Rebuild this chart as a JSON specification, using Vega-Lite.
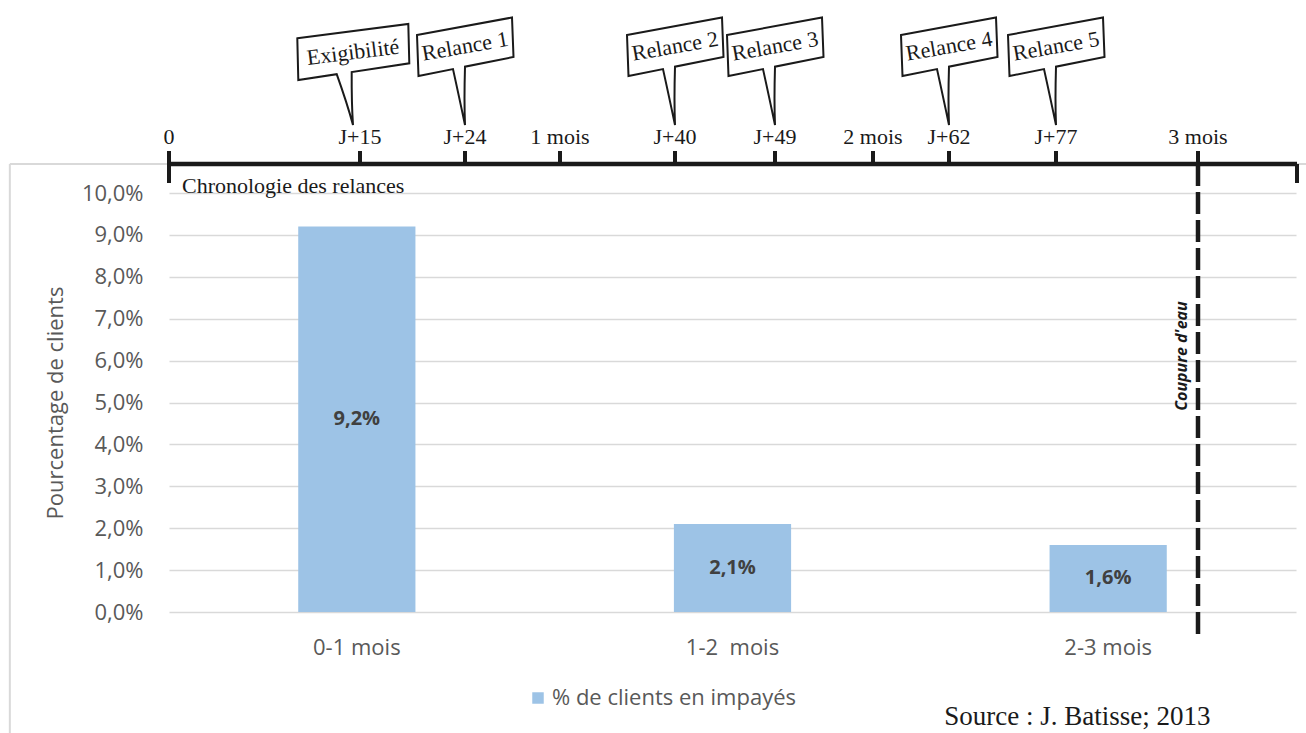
{
  "$schema": "https://vega.github.io/schema/vega-lite/v6.json",
  "width": 1127,
  "height": 419,
  "autosize": {"type": "none"},
  "padding": {"left": 169, "top": 193, "right": 10, "bottom": 121},
  "background": "white",
  "config": {
    "locale": {"number": {"decimal": ",", "thousands": " ", "grouping": [3], "currency": ["", " €"]}},
    "view": {"stroke": null},
    "font": "Open Sans",
    "legend": {
      "orient": "none",
      "legendX": 358,
      "legendY": 494,
      "padding": 0,
      "symbolType": "square",
      "symbolSize": 132,
      "symbolStrokeWidth": 0,
      "labelFont": "Open Sans",
      "labelFontSize": 22,
      "labelColor": "#595959",
      "labelOffset": 3,
      "labelLimit": 0
    }
  },
  "datasets": {
    "clients": [
      {"tranche": "0-1 mois", "pct": 0.092, "serie": "% de clients en impayés"},
      {"tranche": "1-2\u00a0 mois", "pct": 0.021, "serie": "% de clients en impayés"},
      {"tranche": "2-3 mois", "pct": 0.016, "serie": "% de clients en impayés"}
    ],
    "reperes": [
      {"jour": 0, "repere": "0", "type": "mois"},
      {"jour": 15, "repere": "J+15", "type": "relance", "evenement": "Exigibilité"},
      {"jour": 24, "repere": "J+24", "type": "relance", "evenement": "Relance 1"},
      {"jour": 30, "repere": "1 mois", "type": "mois"},
      {"jour": 40, "repere": "J+40", "type": "relance", "evenement": "Relance 2"},
      {"jour": 49, "repere": "J+49", "type": "relance", "evenement": "Relance 3"},
      {"jour": 60, "repere": "2 mois", "type": "mois"},
      {"jour": 62, "repere": "J+62", "type": "relance", "evenement": "Relance 4"},
      {"jour": 77, "repere": "J+77", "type": "relance", "evenement": "Relance 5"},
      {"jour": 90, "repere": "3 mois", "type": "mois"}
    ]
  },
  "layer": [
    {
      "data": {"name": "clients"},
      "layer": [
        {
          "mark": {"type": "bar", "color": "#9dc3e6"},
          "encoding": {
            "x": {
              "field": "tranche",
              "type": "nominal",
              "sort": null,
              "scale": {"domain": ["0-1 mois", "1-2\u00a0 mois", "2-3 mois"], "paddingInner": 0.688, "paddingOuter": 0.344},
              "axis": {
                "title": null,
                "orient": "bottom",
                "domain": false,
                "ticks": false,
                "labelAngle": 0,
                "labelPadding": 25,
                "labelFont": "Open Sans",
                "labelFontSize": 22,
                "labelColor": "#595959"
              }
            },
            "y": {
              "field": "pct",
              "type": "quantitative",
              "scale": {"domain": [0, 0.1], "nice": false, "zero": true},
              "axis": {
                "title": "Pourcentage de clients",
                "format": ".1%",
                "values": [0, 0.01, 0.02, 0.03, 0.04, 0.05, 0.06, 0.07, 0.08, 0.09, 0.1],
                "domain": false,
                "ticks": false,
                "tickSize": 0,
                "labelPadding": 26,
                "labelFont": "Open Sans",
                "labelFontSize": 22,
                "labelColor": "#595959",
                "grid": true,
                "gridColor": "#d9d9d9",
                "gridWidth": 1.5,
                "titleFont": "Open Sans",
                "titleFontSize": 22,
                "titleFontWeight": "normal",
                "titleColor": "#595959",
                "titlePadding": 14
              }
            },
            "color": {
              "field": "serie",
              "type": "nominal",
              "scale": {"range": ["#9dc3e6"]},
              "legend": {"title": null}
            }
          }
        },
        {
          "mark": {"type": "text", "font": "Open Sans", "fontSize": 20, "fontWeight": "bold", "color": "#404040", "baseline": "middle"},
          "encoding": {
            "x": {"field": "tranche", "type": "nominal", "sort": null},
            "y": {"field": "pct", "type": "quantitative", "stack": "zero", "bandPosition": 0.5},
            "text": {"field": "pct", "type": "quantitative", "format": ".1%"}
          }
        },
        {
          "data": {"values": [{"source": "Source : J. Batisse; 2013", "tranche": "2-3 mois"}]},
          "mark": {"type": "text", "font": "Liberation Serif", "fontSize": 27, "color": "#1a1a1a", "align": "left", "baseline": "alphabetic", "dx": -164},
          "encoding": {
            "x": {"field": "tranche", "type": "nominal"},
            "y": {"datum": -0.02697},
            "text": {"field": "source"}
          }
        }
      ]
    },
    {
      "layer": [
        {
          "data": {"values": [{"element": "cadre"}]},
          "mark": {"type": "rule", "color": "#d9d9d9", "strokeWidth": 2},
          "encoding": {
            "x": {"datum": -12.5, "axis": null},
            "y": {"datum": 0.10692},
            "y2": {"datum": -0.04}
          }
        },
        {
          "data": {"values": [{"element": "cadre"}]},
          "mark": {"type": "rule", "color": "#d9d9d9", "strokeWidth": 2},
          "encoding": {
            "x": {"datum": -12.5, "axis": null},
            "x2": {"datum": 102},
            "y": {"datum": 0.10692}
          }
        },
        {
          "data": {"name": "reperes"},
          "mark": {"type": "rule", "color": "#1a1a1a", "strokeWidth": 4},
          "encoding": {
            "x": {
              "field": "jour",
              "type": "quantitative",
              "axis": null,
              "scale": {
                "type": "linear",
                "zero": false,
                "nice": false,
                "domain": [0, 15, 24, 30, 40, 49, 60, 62, 77, 90, 100],
                "range": [0, 191, 296, 391, 506, 606, 704, 780, 887, 1029, 1128]
              }
            },
            "y": {"datum": 0.11002},
            "y2": {"datum": 0.10692}
          }
        },
        {
          "data": {"values": [{"element": "axe"}]},
          "mark": {"type": "rule", "color": "#1a1a1a", "strokeWidth": 4.5},
          "encoding": {
            "x": {"datum": 0, "axis": null},
            "x2": {"datum": 100},
            "y": {"datum": 0.10692}
          }
        },
        {
          "data": {"values": [{"element": "debut"}]},
          "mark": {"type": "rule", "color": "#1a1a1a", "strokeWidth": 4},
          "encoding": {
            "x": {"datum": 0, "axis": null},
            "y": {"datum": 0.11002},
            "y2": {"datum": 0.10239}
          }
        },
        {
          "data": {"values": [{"element": "fin"}]},
          "mark": {"type": "rule", "color": "#1a1a1a", "strokeWidth": 4},
          "encoding": {
            "x": {"datum": 100, "axis": null},
            "y": {"datum": 0.10692},
            "y2": {"datum": 0.10239}
          }
        },
        {
          "data": {"name": "reperes"},
          "mark": {"type": "text", "font": "Liberation Serif", "fontSize": 22, "color": "#1a1a1a", "baseline": "middle"},
          "encoding": {
            "x": {"field": "jour", "type": "quantitative", "axis": null},
            "y": {"datum": 0.11337},
            "text": {"field": "repere"}
          }
        },
        {
          "data": {"name": "reperes"},
          "transform": [{"filter": "datum.type === 'relance'"}],
          "mark": {"type": "point", "filled": true, "fill": "white", "stroke": "#1a1a1a", "strokeWidth": 2, "opacity": 1, "size": 4},
          "encoding": {
            "x": {"field": "jour", "type": "quantitative", "axis": null},
            "y": {"datum": 0.11623},
            "shape": {
              "condition": {
                "test": "datum.evenement === 'Exigibilité'",
                "value": "M-62.7,-86.7L48.3,-101L49.3,-61.7L-8.3,-53Q-8.5,-22,-7,0Q-13,-22,-23.3,-50.8L-61.7,-45Z"
              },
              "value": "M-48,-90L47,-107.5L48.5,-68L0,-58.3Q-1,-24,0,0Q-5,-24,-12,-55.9L-46.5,-49Z"
            }
          }
        },
        {
          "data": {"name": "reperes"},
          "transform": [{"filter": "datum.evenement === 'Exigibilité'"}],
          "mark": {"type": "text", "font": "Liberation Serif", "fontSize": 22, "color": "#1a1a1a", "baseline": "middle", "align": "center", "angle": -7, "dx": -7},
          "encoding": {
            "x": {"field": "jour", "type": "quantitative", "axis": null},
            "y": {"datum": 0.13379},
            "text": {"field": "evenement"}
          }
        },
        {
          "data": {"name": "reperes"},
          "transform": [{"filter": "datum.type === 'relance' && datum.evenement !== 'Exigibilité'"}],
          "mark": {"type": "text", "font": "Liberation Serif", "fontSize": 22, "color": "#1a1a1a", "baseline": "middle", "align": "center", "angle": -10},
          "encoding": {
            "x": {"field": "jour", "type": "quantitative", "axis": null},
            "y": {"datum": 0.13499},
            "text": {"field": "evenement"}
          }
        },
        {
          "data": {"values": [{"evenement": "Coupure d'eau", "jour": 90}]},
          "mark": {"type": "rule", "color": "#1a1a1a", "strokeWidth": 4.5, "strokeDash": [22, 6]},
          "encoding": {
            "x": {"field": "jour", "type": "quantitative", "axis": null},
            "y": {"datum": 0.10692},
            "y2": {"datum": -0.00668}
          }
        },
        {
          "data": {"values": [{"evenement": "Coupure d'eau", "jour": 90}]},
          "mark": {"type": "text", "font": "Open Sans", "fontSize": 16, "fontWeight": "bold", "fontStyle": "italic", "color": "#1a1a1a", "angle": 270, "align": "center", "baseline": "alphabetic", "dy": -11},
          "encoding": {
            "x": {"field": "jour", "type": "quantitative", "axis": null},
            "y": {"datum": 0.0611},
            "text": {"field": "evenement"}
          }
        },
        {
          "data": {"values": [{"titre": "Chronologie des relances", "jour": 0}]},
          "mark": {"type": "text", "font": "Liberation Serif", "fontSize": 22, "color": "#1a1a1a", "align": "left", "baseline": "middle", "dx": 13},
          "encoding": {
            "x": {"field": "jour", "type": "quantitative", "axis": null},
            "y": {"datum": 0.10167},
            "text": {"field": "titre"}
          }
        }
      ]
    }
  ],
  "resolve": {"scale": {"x": "independent"}}
}
